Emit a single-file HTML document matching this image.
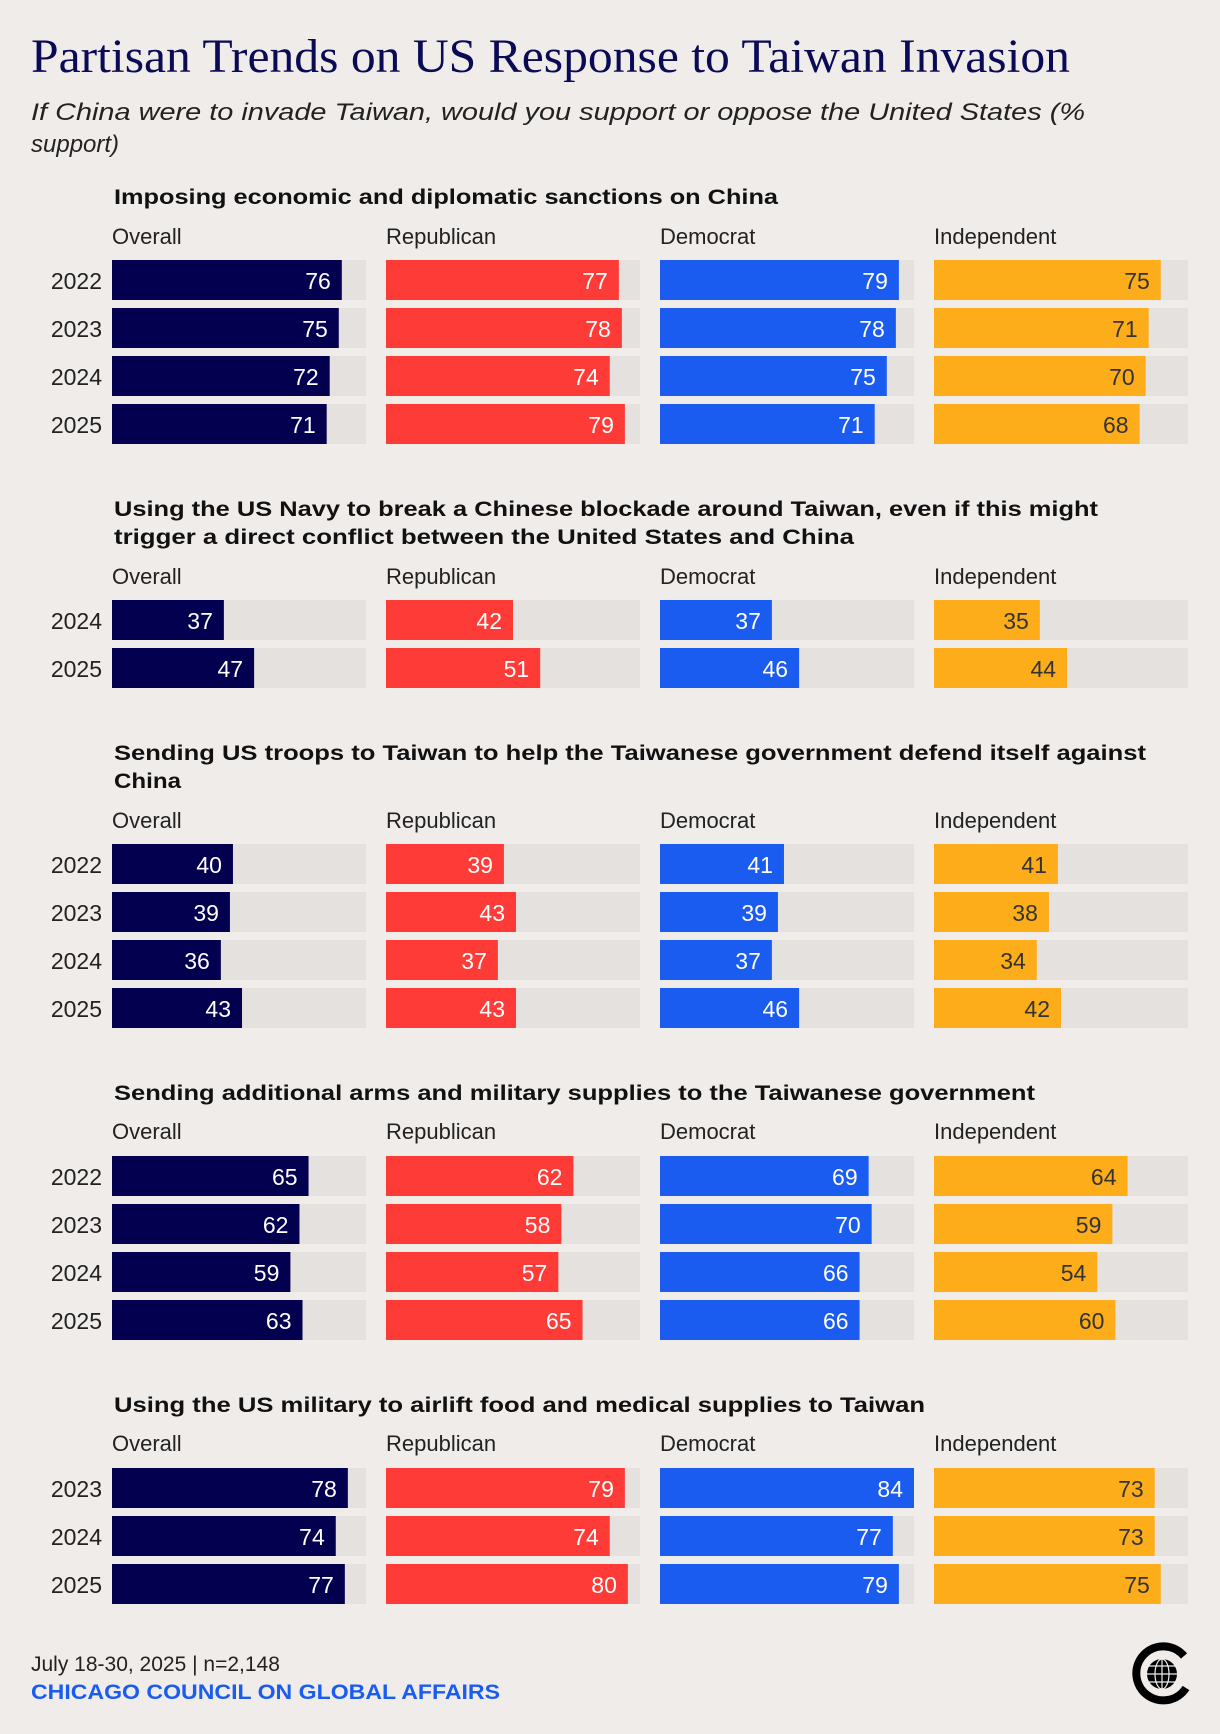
<!DOCTYPE html>
<html><head><meta charset="utf-8">
<style>
html,body{margin:0;padding:0;background:#efecea;}
svg{display:block;}
text{font-family:"Liberation Sans",sans-serif;}
text.serif{font-family:"Liberation Serif",serif;}
</style></head>
<body>
<svg id="c" width="1220" height="1734" viewBox="0 0 1220 1734" xmlns="http://www.w3.org/2000/svg">
<rect width="1220" height="1734" fill="#efecea"/>
<text class="serif" x="31" y="72" font-size="48" fill="#0b0a55" textLength="1039" lengthAdjust="spacingAndGlyphs">Partisan Trends on US Response to Taiwan Invasion</text>
<text x="31" y="120" font-size="24" font-style="italic" fill="#222" textLength="1054" lengthAdjust="spacingAndGlyphs">If China were to invade Taiwan, would you support or oppose the United States (%</text>
<text x="31" y="152" font-size="24" font-style="italic" fill="#222">support)</text>
<g id="charts"></g>
<text x="31" y="1671" font-size="21" fill="#222">July 18-30, 2025 | n=2,148</text>
<text x="31" y="1699" font-size="21" font-weight="bold" fill="#1a5cf0" textLength="469" lengthAdjust="spacingAndGlyphs">CHICAGO COUNCIL ON GLOBAL AFFAIRS</text>
<g>
<path d="M1184 1656 A27 27 0 1 0 1186 1688" fill="none" stroke="#000" stroke-width="8"/>
<circle cx="1162" cy="1674" r="15" fill="#000"/>
<g fill="none" stroke="#eee" stroke-width="1.2">
<ellipse cx="1162" cy="1674" rx="7" ry="15"/>
<line x1="1147" y1="1674" x2="1177" y2="1674"/>
<line x1="1149" y1="1666" x2="1175" y2="1666"/>
<line x1="1149" y1="1682" x2="1175" y2="1682"/>
<line x1="1162" y1="1659" x2="1162" y2="1689"/>
</g>
</g>
</svg>
<script>
const groups = ["Overall","Republican","Democrat","Independent"];
const colors = ["#02004f","#ff3b37","#1a5cf0","#fdad1a"];
const sectionTitles = [
 ["Imposing economic and diplomatic sanctions on China"],
 ["Using the US Navy to break a Chinese blockade around Taiwan, even if this might","trigger a direct conflict between the United States and China"],
 ["Sending US troops to Taiwan to help the Taiwanese government defend itself against","China"],
 ["Sending additional arms and military supplies to the Taiwanese government"],
 ["Using the US military to airlift food and medical supplies to Taiwan"]
];
const years1 = ["2022","2023","2024","2025"];
const years2 = ["2024","2025"];
const years3 = ["2022","2023","2024","2025"];
const years4 = ["2022","2023","2024","2025"];
const years5 = ["2023","2024","2025"];
const values1 = [[76,75,72,71],[77,78,74,79],[79,78,75,71],[75,71,70,68]];
const values2 = [[37,47],[42,51],[37,46],[35,44]];
const values3 = [[40,39,36,43],[39,43,37,43],[41,39,37,46],[41,38,34,42]];
const values4 = [[65,62,59,63],[62,58,57,65],[69,70,66,66],[64,59,54,60]];
const values5 = [[78,74,77],[79,74,80],[84,77,79],[73,73,75]];
const allYears=[years1,years2,years3,years4,years5];
const allValues=[values1,values2,values3,values4,values5];
const titleY=[204,516,760,1100,1412];
const titleLens=[[664],[984,740],[1032,67],[921],[811]];
const headerY=[244,584,828,1139,1451];
const barTop=[260,600,844,1156,1468];
const colX=[112,386,660,934], trackW=254, maxV=84, barH=40, pitch=48;
const xs = v => v/maxV*trackW;
const NS="http://www.w3.org/2000/svg";
const root=document.getElementById('charts');
function mk(tag,attrs,parent){const e=document.createElementNS(NS,tag);for(const k in attrs)e.setAttribute(k,attrs[k]);(parent||root).appendChild(e);return e;}
sectionTitles.forEach((lines,s)=>{
  const g=mk('g',{});
  
  
  lines.forEach((ln,i)=>{
    const t=mk('text',{x:114,y:titleY[s]+i*28,'font-size':21,'font-weight':'bold',fill:'#111',textLength:titleLens[s][i],lengthAdjust:'spacingAndGlyphs'},g);
    t.textContent=ln;
    
    
  });
  groups.forEach((gn,c)=>{
    const h=mk('text',{x:colX[c],y:headerY[s],'font-size':22,fill:'#222'},g);
    h.textContent=gn;
    
    
  });
  allYears[s].forEach((yr,r)=>{
    const y=barTop[s]+r*pitch;
    const yl=mk('text',{x:102,y:y+29,'font-size':23,fill:'#222','text-anchor':'end'},g);
    yl.textContent=yr;
    
    
    groups.forEach((gn,c)=>{
      const v=allValues[s][c][r];
      const tr=mk('rect',{x:colX[c],y:y,width:trackW,height:barH,fill:'#e5e1de'},g);
      
      
      const b=mk('rect',{x:colX[c],y:y,width:xs(v),height:barH,fill:colors[c]},g);
      
      
      const vt=mk('text',{x:colX[c]+xs(v)-11,y:y+29,'font-size':23,fill:c==3?'#333':'#fff','text-anchor':'end'},g);
      vt.textContent=v;
      
      
    });
  });
});
</script>
</body></html>
